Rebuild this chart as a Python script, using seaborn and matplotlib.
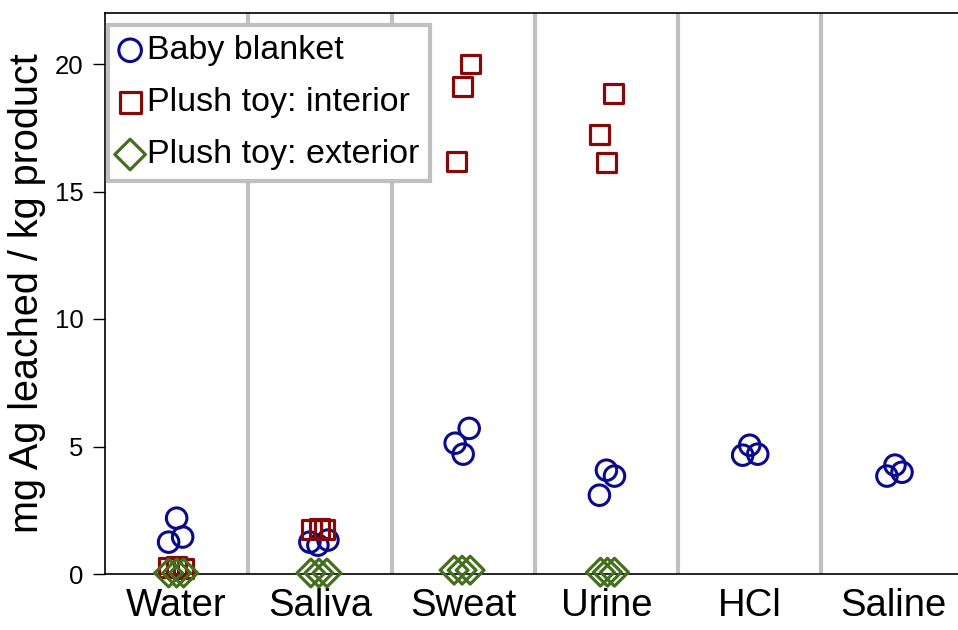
import numpy as np
import pandas as pd
import seaborn as sns
from matplotlib import pyplot as plt

categories = ['Water', 'Saliva', 'Sweat', 'Urine', 'HCl', 'Saline']

# values per category (three replicates each)
blanket_values = [[2.19, 1.25, 1.45], [1.25, 1.13, 1.33], [5.71, 5.13, 4.70],
                  [4.07, 3.84, 3.09], [5.05, 4.66, 4.70], [4.27, 3.84, 3.99]]
blanket_jitter = [[0.0, -0.056, 0.042], [-0.07, -0.014, 0.056], [0.042, -0.056, 0.0],
                  [0.0, 0.056, -0.049], [0.0, -0.049, 0.056], [0.014, -0.042, 0.063]]

interior_values = [[0.25, 0.30, 0.22], [1.75, 1.80, 1.75], [20.0, 19.1, 16.17],
                   [18.83, 17.22, 16.12], [], []]
interior_jitter = [[-0.056, 0.0, 0.049], [-0.056, 0.0, 0.035], [0.049, -0.007, -0.049],
                   [0.049, -0.049, 0.0], [], []]

exterior_values = [[0.04, 0.04, 0.04], [0.04, 0.04, 0.04], [0.15, 0.15, 0.15],
                   [0.07, 0.07, 0.07], [], []]
exterior_jitter = [[-0.056, 0.0, 0.049], [-0.063, -0.007, 0.049], [-0.063, -0.007, 0.049],
                   [-0.042, 0.007, 0.056], [], []]

series = [
    ('Baby blanket', blanket_values, blanket_jitter, 'o', '#0a0a8c', 218, 2.2),
    ('Plush toy: interior', interior_values, interior_jitter, 's', '#840a0a', 187, 2.3),
    ('Plush toy: exterior', exterior_values, exterior_jitter, 'D', '#456f1f', 200, 2.3),
]


def to_frame(values, jitter):
    rows = []
    for i, cat in enumerate(categories):
        for v, j in zip(values[i], jitter[i]):
            rows.append({'category': cat, 'x': i + j, 'value': v})
    return pd.DataFrame(rows)


sns.set_style('ticks')
plt.rcParams['font.family'] = ['Liberation Sans', 'DejaVu Sans']
plt.rcParams['text.color'] = 'black'
plt.rcParams['axes.labelcolor'] = 'black'
plt.rcParams['xtick.color'] = 'black'
plt.rcParams['ytick.color'] = 'black'

fig = plt.figure(figsize=(9.58, 6.3), dpi=100)
ax = fig.add_axes([105 / 958, 56 / 630, 859.6 / 958, 561 / 630])

for i in range(len(categories) - 1):
    ax.axvline(i + 0.5, color='#c0c0c0', lw=3, zorder=0)

for label, values, jitter, marker, color, size, lw in series:
    df = to_frame(values, jitter)
    sns.scatterplot(data=df, x='x', y='value', ax=ax, marker=marker, s=size,
                    color=color, facecolor='none', edgecolor=color, linewidth=lw,
                    label=label, zorder=3, clip_on=False)

ax.set_xlim(-0.5, len(categories) - 0.5)
ax.set_ylim(0, 22)
ax.set_xticks(range(len(categories)))
ax.set_xticklabels(categories, fontsize=27.5)
ax.set_yticks([0, 5, 10, 15, 20])
ax.tick_params(axis='y', labelsize=18.5, length=8.5, width=1, pad=7)
ax.tick_params(axis='x', length=0, pad=10)
ax.set_xlabel('')
ax.set_ylabel('mg Ag leached / kg product', fontsize=28.5, labelpad=6)

for side in ['left', 'bottom', 'top', 'right']:
    ax.spines[side].set_color('black')
    ax.spines[side].set_linewidth(1.2)

leg = ax.legend(loc='upper left', bbox_to_anchor=(3 / 859.6, 1 - 12 / 561),
                borderaxespad=0, fontsize=24.5, handlelength=0.7, handletextpad=0.15,
                labelspacing=0.62, borderpad=0.3, fancybox=False, framealpha=1,
                markerscale=1.1)
leg.get_frame().set_edgecolor('#c0c0c0')
leg.get_frame().set_linewidth(3)

plt.savefig('out.png', dpi=100)
